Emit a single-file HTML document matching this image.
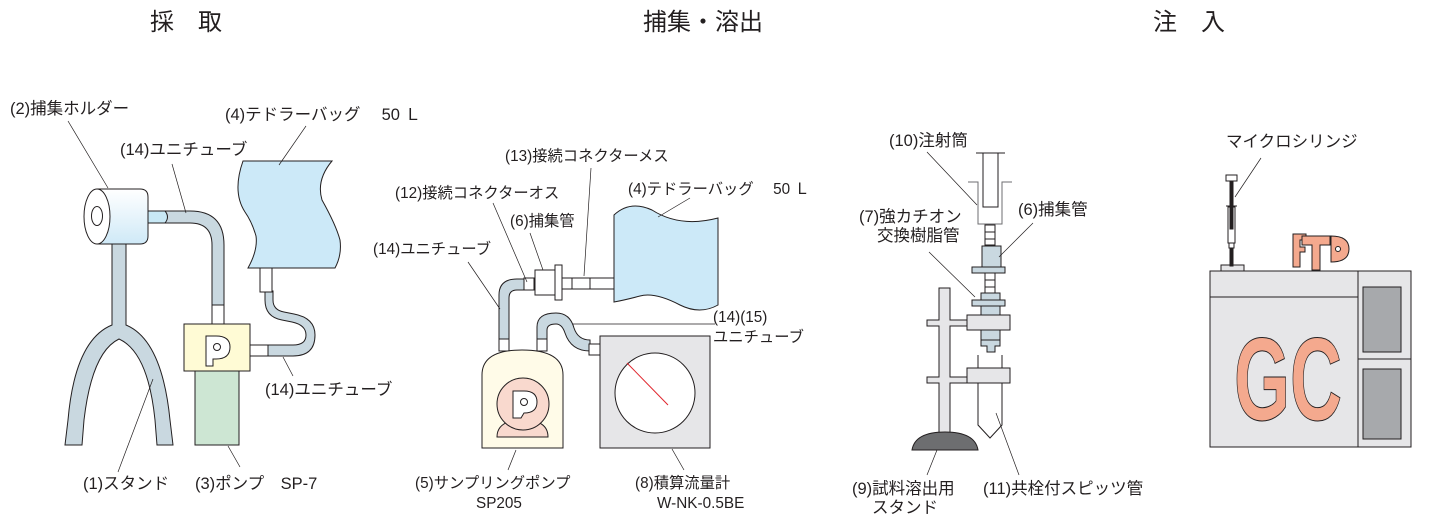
<!DOCTYPE html>
<html><head><meta charset="utf-8"><style>
html,body{margin:0;padding:0;background:#fff;}
svg{display:block;}
text{font-family:"Liberation Sans","Noto Sans CJK JP",sans-serif;fill:#231f20;}
.l{font-size:16.5px;}
.m{font-size:15.3px;}
.t{font-size:24px;}
</style></head><body>
<svg width="1431" height="531" viewBox="0 0 1431 531" xmlns="http://www.w3.org/2000/svg">
<defs>
<linearGradient id="hg" x1="0" y1="0" x2="0" y2="1"><stop offset="0" stop-color="#ffffff"/><stop offset="1" stop-color="#cfe9f7"/></linearGradient>
</defs>
<text class="t" x="150" y="30">採　取</text>
<text class="t" x="643" y="30">捕集・溶出</text>
<text class="t" x="1153" y="30">注　入</text>

<g stroke="#231f20" stroke-width="1" fill="none">
<path d="M112,244 L112,325 Q75,340 68,420 L65,445 L82,445 L84,420 Q92,352 119,339 Q148,352 155,420 L157,445 L173,445 L170,420 Q162,340 126,325 L126,244 Z" fill="#c9d8e0"/>
<path d="M150,211 L190,211 Q224,211 224,245 L224,305 L212,305 L212,245 Q212,223 190,223 L150,223 Z" fill="#c9d8e0"/>
<path d="M148,211 L165,211 Q170,217 165,223 L148,223 Z" fill="#c8e8f5"/>
<rect x="212" y="305" width="12" height="19" fill="#fff"/>
<path d="M97,189 L140,189 Q148,189 148,197 L148,236 Q148,244 140,244 L97,244" fill="url(#hg)"/>
<ellipse cx="97" cy="216.5" rx="13" ry="27.5" fill="#fff"/>
<ellipse cx="97" cy="216" rx="5.5" ry="9.5" fill="#fff"/>
<rect x="195" y="371" width="44" height="74" fill="#cde6d3"/>
<rect x="184" y="324" width="66" height="47" fill="#fffbd5"/>
<path d="M206,336 L216,336 Q230,336 230,347 Q230,359 216,359 L213,359 L213,366 L206,366 Z" fill="#fff"/>
<circle cx="217" cy="347" r="3.5" fill="#fff"/>
<rect x="250" y="345" width="19" height="11" fill="#fff"/>
<path d="M268,345 L293,345 Q306,345 306,335 Q306,325 292,322 L282,320 Q265,317 265,300 L265,291 L273,291 L273,300 Q273,310 284,312 L294,314 Q315,318 315,335 Q315,356 293,356 L268,356 Z" fill="#c9d8e0"/>
<rect x="260" y="268" width="12" height="24" fill="#fff"/>
<path d="M243,161 L332,161 Q316,180 322,200 Q336,225 340,240 Q342,255 335,268 L248,268 Q258,250 256,236 Q252,222 245,212 Q232,192 243,161 Z" fill="#cce9f8"/>
<path d="M68,121 L108,188 M172,164 L186,213 M306,126 L279,165 M293,376 L283,357 M118,472 L153,379 M240,467 L228,446" stroke-width="0.7"/>

<path d="M499,339 L499,295 Q499,279 517,279 L527,279 L527,290 L517,290 Q509,290 509,298 L509,339 Z" fill="#c9d8e0"/>
<rect x="524" y="278" width="10" height="12" fill="#fff"/>
<rect x="535" y="270" width="20" height="25" fill="#fff"/>
<rect x="555" y="265" width="7" height="35" fill="#fff"/>
<rect x="562" y="278" width="52" height="11" fill="#fff"/>
<path d="M572,278 L572,289 M590,278 L590,289"/>
<path d="M614,215 Q630,200 652,210 Q680,228 718,218 L718,305 Q700,315 680,305 Q655,292 640,296 Q625,300 614,302 Z" fill="#cce9f8"/>
<path d="M537,339 L537,327 Q537,313 556,313 Q570,313 574,328 Q578,340 590,340 L590,351 Q571,351 565,333 Q562,324 556,324 Q547,324 547,330 L547,339 Z" fill="#c9d8e0"/>
<rect x="499" y="339" width="10" height="12" fill="#fff"/>
<rect x="537" y="339" width="10" height="12" fill="#fff"/>
<rect x="589" y="344" width="11" height="11" fill="#fff"/>
<path d="M482,448 L482,375 Q482,350 522,350 Q563,350 563,375 L563,448 Z" fill="#fffbe8"/>
<path d="M497,437 Q497,420 523,420 Q548,420 548,437 Z" fill="#f9d9ce"/>
<circle cx="523" cy="404" r="26" fill="#f9d9ce"/>
<path d="M513,391 L524,391 Q537,391 537,402 Q537,413 524,413 L521,418 L513,418 Z" fill="#fff"/>
<circle cx="524" cy="402" r="3.5" fill="#fff"/>
<rect x="600" y="336" width="110" height="112" fill="#e6e6e8"/>
<circle cx="655" cy="393" r="40" fill="#fff"/>
<path d="M627,363 L668,405" stroke="#e0262e"/>
<path d="M591,168 L584,276 M493,203 L527,282 M530,233 L543,270 M468,262 L500,309 M690,198 L658,217 M572,324 L715,324 M516,450 L508,470 M672,449 L684,470" stroke-width="0.7"/>

<path d="M939,288 L950,288 L950,320 L967,320 L967,326 L950,326 L950,377 L967,377 L967,383 L950,383 L950,433 L939,433 L939,383 L927,383 L927,377 L939,377 L939,326 L927,326 L927,320 L939,320 Z" fill="#e6e6e8"/>
<path d="M912,450 Q915,432 945,432 Q975,432 978,450 Z" fill="#6d6e70"/>
<path d="M983,153 L983,207 L998,207 L998,153"/>
<path d="M976,153 L1005,153"/>
<path d="M968,182 L978,182 L978,224 L1002,224 L1002,182 L1012,182" stroke="#6d6e70"/>
<rect x="985" y="225" width="10" height="20" fill="#fff"/>
<path d="M985,232 L995,232 M985,239 L995,239"/>
<rect x="982" y="246" width="19" height="21" fill="#c9d8e0"/>
<rect x="972" y="267" width="33" height="6" fill="#c9d8e0"/>
<rect x="985" y="273" width="10" height="20" fill="#fff"/>
<path d="M985,280 L995,280 M985,287 L995,287"/>
<rect x="981" y="293" width="19" height="52" fill="#c9d8e0"/>
<rect x="972" y="300" width="33" height="6" fill="#c9d8e0"/>
<path d="M981,340 L981,346 L987,346 L987,352 L995,352 L995,346 L1000,346 L1000,340 Z" fill="#c9d8e0"/>
<rect x="967" y="315" width="43" height="15" fill="#e6e6e8"/>
<path d="M978,355 L978,425 L990,438 L1002,425 L1002,355"/>
<rect x="967" y="368" width="43" height="15" fill="#e6e6e8"/>
<rect x="1210" y="271" width="201" height="176" fill="#e6e6e8"/>
<path d="M1358,271 L1358,447 M1210,297 L1358,297 M1358,359 L1411,359"/>
<rect x="1363" y="287" width="38" height="65" fill="#a7a9ac"/>
<rect x="1363" y="369" width="38" height="70" fill="#a7a9ac"/>
<rect x="1221" y="265" width="23" height="6" fill="#e6e6e8"/>
<rect x="1226" y="175" width="11" height="6" fill="#fff"/>
<rect x="1230" y="181" width="3" height="85" fill="#231f20"/>
<path d="M1226,206 L1237,206"/>
<rect x="1228" y="207" width="7" height="36" fill="#fff"/>
<rect x="1230" y="207" width="3" height="22" fill="#231f20"/>
<rect x="1229" y="243" width="5" height="5" fill="#fff"/>
<path d="M1293,234 L1306,234 L1306,240 L1300,240 L1300,247 L1305,247 L1305,252 L1300,252 L1300,267 L1293,267 Z" fill="#f4a98e"/>
<path d="M1302,236 L1330,236 L1330,245 L1320,245 L1320,270 L1312,270 L1312,245 L1302,245 Z" fill="#f4a98e"/>
<path d="M1331,236 Q1349,236 1349,249 Q1349,262 1331,262 Z" fill="#f4a98e"/>
<circle cx="1338" cy="249" r="2.5" fill="#fff"/>
<path d="M927,152 L977,205 M929,252 L975,297 M1033,223 L999,257 M937,450 L927,475 M996,413 L1019,475 M1261,158 L1235,197" stroke-width="0.7"/>
</g>
<text x="1234" y="420" style="font-family:'Liberation Sans',sans-serif;font-size:118px;font-weight:bold;fill:#f4a98e;stroke:#231f20;stroke-width:1" textLength="108" lengthAdjust="spacingAndGlyphs">GC</text>

<text class="l" x="10" y="114">(2)捕集ホルダー</text>
<text class="l" x="120" y="155">(14)ユニチューブ</text>
<text class="l" x="225" y="120">(4)テドラーバッグ　 50 Ｌ</text>
<text class="l" x="265" y="395">(14)ユニチューブ</text>
<text class="l" x="83" y="489">(1)スタンド</text>
<text class="l" x="195" y="489">(3)ポンプ　SP-7</text>
<text class="m" x="505" y="161">(13)接続コネクターメス</text>
<text class="m" x="395" y="198">(12)接続コネクターオス</text>
<text class="m" x="510" y="226">(6)捕集管</text>
<text class="m" x="373" y="254">(14)ユニチューブ</text>
<text class="m" x="628" y="194">(4)テドラーバッグ　 50 Ｌ</text>
<text class="m" x="713" y="322">(14)(15)</text>
<text class="m" x="713" y="342">ユニチューブ</text>
<text class="m" x="415" y="488">(5)サンプリングポンプ</text>
<text class="m" x="476" y="508">SP205</text>
<text class="m" x="635" y="488">(8)積算流量計</text>
<text class="m" x="657" y="508">W-NK-0.5BE</text>
<text class="l" x="889" y="146">(10)注射筒</text>
<text class="l" x="859" y="222">(7)強カチオン</text>
<text class="l" x="877" y="241">交換樹脂管</text>
<text class="l" x="1018" y="215">(6)捕集管</text>
<text class="l" x="852" y="494">(9)試料溶出用</text>
<text class="l" x="872" y="513">スタンド</text>
<text class="l" x="983" y="494">(11)共栓付スピッツ管</text>
<text class="l" x="1226" y="147">マイクロシリンジ</text>
</svg>
</body></html>
